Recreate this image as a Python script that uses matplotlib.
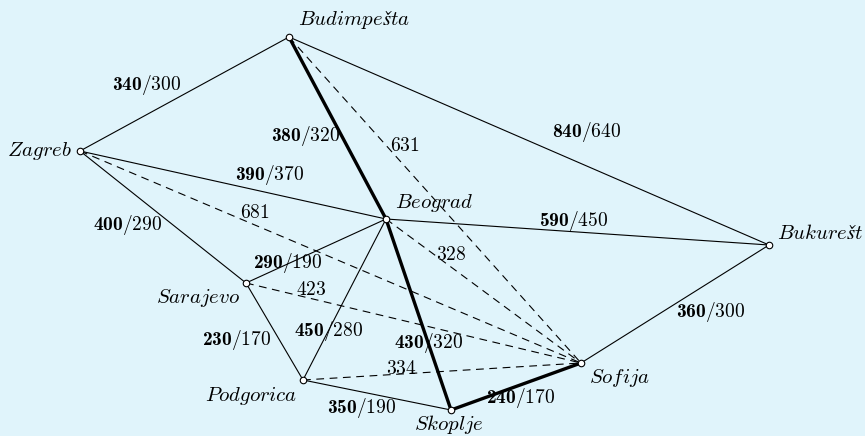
import matplotlib.pyplot as plt

plt.rcParams['mathtext.fontset'] = 'custom'
plt.rcParams['mathtext.rm'] = 'cmr10'
plt.rcParams['mathtext.it'] = 'cmmi10'
plt.rcParams['mathtext.bf'] = 'cmb10'
plt.rcParams['font.family'] = 'serif'
plt.rcParams['font.serif'] = ['cmr10', 'DejaVu Serif']
plt.rcParams['axes.formatter.use_mathtext'] = True

# ── Graph data ──────────────────────────────────────────────────────────
cities = ['Budimpešta', 'Zagreb', 'Beograd', 'Bukurešt',
          'Sarajevo', 'Podgorica', 'Skoplje', 'Sofija']
node_x = [289, 80, 386, 769, 246, 303, 451, 581]
node_y = [37, 151, 219, 245, 283, 380, 410, 363]

# road edges: from, to, road km, air km, on route
edge_from = ['Zagreb', 'Budimpešta', 'Budimpešta', 'Zagreb', 'Zagreb', 'Sarajevo',
             'Beograd', 'Beograd', 'Beograd', 'Sarajevo', 'Podgorica', 'Skoplje', 'Sofija']
edge_to = ['Budimpešta', 'Beograd', 'Bukurešt', 'Beograd', 'Sarajevo', 'Beograd',
           'Bukurešt', 'Skoplje', 'Podgorica', 'Podgorica', 'Skoplje', 'Sofija', 'Bukurešt']
edge_road = [340, 380, 840, 390, 400, 290, 590, 430, 450, 230, 350, 240, 360]
edge_air = [300, 320, 640, 370, 290, 190, 450, 320, 280, 170, 190, 170, 300]
edge_route = [False, True, False, False, False, False, False, True, False, False, False, True, False]

# straight-line distances to Sofija (dashed)
dash_from = ['Budimpešta', 'Zagreb', 'Beograd', 'Sarajevo', 'Podgorica']
dash_dist = [631, 681, 328, 423, 334]

# ── Label layout ────────────────────────────────────────────────────────
edge_label_xy = [(147, 85), (306, 136), (587, 132), (270, 175), (128, 225), (288, 263),
                 (574, 221), (429, 343), (329, 331), (237, 340), (362, 408), (521, 398),
                 (711, 312)]
dash_label_xy = [(405, 146), (255, 213), (451, 255), (311, 290), (401, 369)]
city_label = [(298, 20, 'left'), (72, 151, 'right'), (395, 203, 'left'), (777, 233, 'left'),
              (240, 298, 'right'), (297, 396, 'right'), (449, 424, 'center'), (589, 378, 'left')]

pos = {c: (x, y) for c, x, y in zip(cities, node_x, node_y)}

fig = plt.figure(figsize=(8.65, 4.36), dpi=100)
fig.patch.set_facecolor('#E0F4FB')
ax = fig.add_axes([0, 0, 1, 1])
ax.set_facecolor('#E0F4FB')
ax.set_xlim(0, 865)
ax.set_ylim(436, 0)
ax.axis('off')

# dashed lines to Sofija
sx, sy = pos['Sofija']
for c, d, (lx, ly) in zip(dash_from, dash_dist, dash_label_xy):
    x0, y0 = pos[c]
    ax.plot([x0, sx], [y0, sy], color='black', lw=0.8, ls=(0, (7, 5)), zorder=1)
    ax.text(lx, ly, rf'$\mathrm{{{d}}}$', fontsize=14, ha='center', va='center', zorder=3)

# roads
for a, b, r, s, route, (lx, ly) in zip(edge_from, edge_to, edge_road, edge_air,
                                       edge_route, edge_label_xy):
    x0, y0 = pos[a]
    x1, y1 = pos[b]
    ax.plot([x0, x1], [y0, y1], color='black', lw=2.4 if route else 0.8,
            solid_capstyle='round', zorder=2)
    ax.text(lx, ly, rf'$\mathbf{{{r}}}\mathrm{{/{s}}}$', fontsize=14,
            ha='center', va='center', zorder=3)

# cities
ax.scatter(node_x, node_y, s=22, facecolor='white', edgecolor='black', linewidth=0.8, zorder=4)
for name, (lx, ly, ha) in zip(cities, city_label):
    ax.text(lx, ly, f'${name}$', fontsize=15, ha=ha, va='center', zorder=5)

plt.savefig('out.png', dpi=100, facecolor=fig.get_facecolor())
